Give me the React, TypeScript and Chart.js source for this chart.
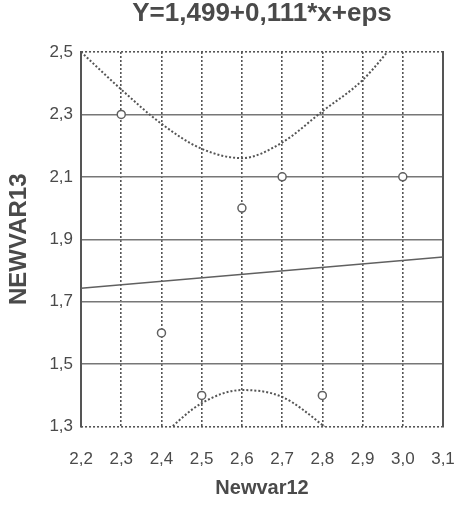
import { useEffect, useRef } from 'react';
import { Chart, registerables } from 'chart.js';

Chart.register(...registerables);

const titleText = 'Y=1,499+0,111*x+eps';
const xAxisTitle = 'Newvar12';
const yAxisTitle = 'NEWVAR13';

const xMin = 2.2;
const xMax = 3.1;
const xStep = 0.1;
const yMin = 1.3;
const yMax = 2.5;
const yStep = 0.2;

// observed points (open circles)
const pointX = [2.3, 2.4, 2.5, 2.6, 2.7, 2.8, 3.0];
const pointY = [2.3, 1.6, 1.4, 2.0, 2.1, 1.4, 2.1];

// fitted line end points
const fitX = [2.2, 3.1];
const fitY = [1.743, 1.843];

// upper dotted band
const upperX = [2.2, 2.3, 2.4, 2.5, 2.6, 2.7, 2.8, 2.9, 3.0];
const upperY = [2.5, 2.38, 2.27, 2.19, 2.16, 2.21, 2.31, 2.41, 2.56];

// lower dotted band
const lowerX = [2.3, 2.4, 2.5, 2.6, 2.7, 2.8, 2.9];
const lowerY = [1.16, 1.27, 1.375, 1.417, 1.395, 1.305, 1.19];

const FONT = "'Liberation Sans', Arial, Helvetica, sans-serif";
const TEXT = '#4a4a4a';
const LINE = '#606060';
const GRID = '#777777';
const DOTS = '#555555';
const BORDER = '#555555';

const zip = (xs: number[], ys: number[]) => xs.map((x, i) => ({ x, y: ys[i] }));
const fmt = (v: number | string) => Number(v).toFixed(1).replace('.', ',');

export default function App() {
  const ref = useRef<HTMLCanvasElement | null>(null);

  useEffect(() => {
    if (!ref.current) return;
    const chart = new Chart(ref.current, {
      type: 'scatter',
      data: {
        datasets: [
          {
            label: 'obs',
            data: zip(pointX, pointY),
            showLine: false,
            pointRadius: 4,
            pointBorderWidth: 1.5,
            pointBackgroundColor: '#ffffff',
            pointBorderColor: LINE,
          },
          {
            label: 'fit',
            data: zip(fitX, fitY),
            showLine: true,
            pointRadius: 0,
            borderColor: LINE,
            borderWidth: 1.5,
          },
          {
            label: 'upper',
            data: zip(upperX, upperY),
            showLine: true,
            pointRadius: 0,
            borderColor: DOTS,
            borderWidth: 2,
            borderDash: [2, 2],
            cubicInterpolationMode: 'monotone',
          },
          {
            label: 'lower',
            data: zip(lowerX, lowerY),
            showLine: true,
            pointRadius: 0,
            borderColor: DOTS,
            borderWidth: 2,
            borderDash: [2, 2],
            cubicInterpolationMode: 'monotone',
          },
        ],
      },
      options: {
        animation: false,
        responsive: false,
        events: [],
        layout: { padding: { top: 0, right: 18, bottom: 0, left: 0 } },
        plugins: {
          legend: { display: false },
          tooltip: { enabled: false },
          title: {
            display: true,
            text: titleText,
            fullSize: false,
            color: TEXT,
            font: { family: FONT, size: 26, weight: 'bold' },
            padding: { top: -2.2, bottom: 23 },
          },
        },
        scales: {
          x: {
            type: 'linear',
            min: xMin,
            max: xMax,
            ticks: {
              stepSize: xStep,
              color: TEXT,
              padding: 0,
              font: { family: FONT, size: 17 },
              callback: (v) => fmt(v),
            },
            grid: {
              drawTicks: true,
              tickLength: 23,
              tickColor: 'rgba(0,0,0,0)',
              lineWidth: 1.6,
              color: (ctx) =>
                ctx.index === 0 || Math.abs(ctx.tick?.value - xMax) < 1e-6 ? 'rgba(0,0,0,0)' : DOTS,
            },
            border: { display: false, dash: [2, 2] },
            title: {
              display: true,
              text: xAxisTitle,
              color: TEXT,
              font: { family: FONT, size: 20, weight: 'bold' },
              padding: { top: 6, bottom: 19 },
            },
          },
          y: {
            type: 'linear',
            position: 'left',
            min: yMin,
            max: yMax,
            ticks: {
              stepSize: yStep,
              color: TEXT,
              padding: 8,
              font: { family: FONT, size: 17 },
              callback: (v) => fmt(v),
            },
            grid: {
              drawTicks: false,
              lineWidth: 1.6,
              color: (ctx) =>
                Math.abs(ctx.tick?.value - yMin) < 1e-6 || Math.abs(ctx.tick?.value - yMax) < 1e-6
                  ? 'rgba(0,0,0,0)'
                  : GRID,
            },
            border: { display: true, color: BORDER, width: 2 },
            title: {
              display: true,
              text: yAxisTitle,
              color: TEXT,
              font: { family: FONT, size: 24, weight: 'bold' },
              padding: { top: 4.6, bottom: 8 },
            },
          },
          y2: {
            type: 'linear',
            position: 'right',
            min: yMin,
            max: yMax,
            afterBuildTicks: (axis) => {
              axis.ticks = [{ value: yMin }, { value: yMax }];
            },
            ticks: { display: false },
            grid: {
              drawTicks: false,
              lineWidth: 1.6,
              color: DOTS,
            },
            border: { display: true, color: BORDER, width: 2, dash: [2, 2] },
          },
        },
      },
    });
    return () => chart.destroy();
  }, []);

  return (
    <div style={{ position: 'absolute', left: 0, top: 0, width: 461, height: 519, background: '#ffffff' }}>
      <canvas ref={ref} width={461} height={519} />
    </div>
  );
}
